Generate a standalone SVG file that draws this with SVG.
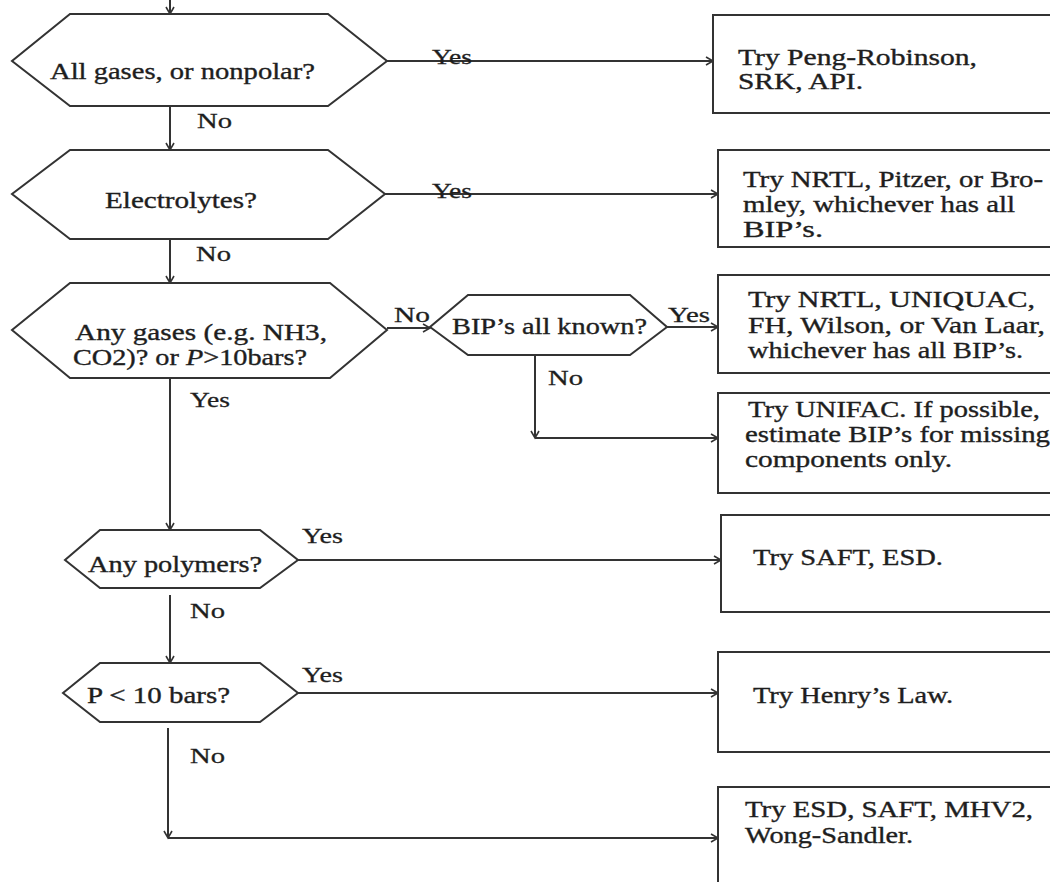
<svg xmlns="http://www.w3.org/2000/svg" width="1050" height="882" viewBox="0 0 1050 882">
<style>
.shape{fill:#fff;stroke:#333;stroke-width:2}
.t{font-family:"Liberation Serif","Times New Roman",Times,serif;font-size:23px;fill:#1e1e1e;stroke:#1e1e1e;stroke-width:0.35}
.lbl{font-family:"Liberation Serif","Times New Roman",Times,serif;font-size:22px;fill:#1e1e1e;stroke:#1e1e1e;stroke-width:0.3}
.c{fill:none;stroke:#333;stroke-width:2}
</style>
<defs>
<marker id="arr" markerWidth="10" markerHeight="10" refX="8" refY="5" orient="auto" markerUnits="userSpaceOnUse">
<path d="M1,1 L8,5 L1,9" fill="none" stroke="#333" stroke-width="1.6"/>
</marker>
</defs>
<rect width="1050" height="882" fill="#fff"/>
<g id="connectors">
<line class="c" x1="170" y1="0" x2="170" y2="14" marker-end="url(#arr)"/>
<line class="c" x1="387" y1="61" x2="713" y2="61" marker-end="url(#arr)"/>
<line class="c" x1="170" y1="106" x2="170" y2="150" marker-end="url(#arr)"/>
<line class="c" x1="385" y1="194" x2="718" y2="194" marker-end="url(#arr)"/>
<line class="c" x1="170" y1="239" x2="170" y2="283" marker-end="url(#arr)"/>
<line class="c" x1="387" y1="328" x2="430" y2="328" marker-end="url(#arr)"/>
<line class="c" x1="667" y1="327" x2="718" y2="327" marker-end="url(#arr)"/>
<line class="c" x1="535" y1="355" x2="535" y2="438" marker-end="url(#arr)"/>
<line class="c" x1="535" y1="438" x2="718" y2="438" marker-end="url(#arr)"/>
<line class="c" x1="170" y1="378" x2="170" y2="530" marker-end="url(#arr)"/>
<line class="c" x1="298" y1="560" x2="721" y2="560" marker-end="url(#arr)"/>
<line class="c" x1="170" y1="595" x2="170" y2="663" marker-end="url(#arr)"/>
<line class="c" x1="298" y1="693" x2="718" y2="693" marker-end="url(#arr)"/>
<line class="c" x1="168" y1="728" x2="168" y2="838" marker-end="url(#arr)"/>
<line class="c" x1="168" y1="838" x2="718" y2="838" marker-end="url(#arr)"/>
<text class="lbl" x="432" y="64" textLength="40" lengthAdjust="spacingAndGlyphs">Yes</text>
<text class="lbl" x="197" y="128" textLength="35" lengthAdjust="spacingAndGlyphs">No</text>
<text class="lbl" x="432" y="198" textLength="40" lengthAdjust="spacingAndGlyphs">Yes</text>
<text class="lbl" x="196" y="261" textLength="35" lengthAdjust="spacingAndGlyphs">No</text>
<text class="lbl" x="394" y="322" textLength="36" lengthAdjust="spacingAndGlyphs">No</text>
<text class="lbl" x="668" y="322" textLength="42" lengthAdjust="spacingAndGlyphs">Yes</text>
<text class="lbl" x="548" y="385" textLength="35" lengthAdjust="spacingAndGlyphs">No</text>
<text class="lbl" x="190" y="407" textLength="40" lengthAdjust="spacingAndGlyphs">Yes</text>
<text class="lbl" x="302" y="543" textLength="41" lengthAdjust="spacingAndGlyphs">Yes</text>
<text class="lbl" x="190" y="618" textLength="35" lengthAdjust="spacingAndGlyphs">No</text>
<text class="lbl" x="302" y="682" textLength="41" lengthAdjust="spacingAndGlyphs">Yes</text>
<text class="lbl" x="190" y="763" textLength="35" lengthAdjust="spacingAndGlyphs">No</text>
</g>
<g id="q-gases">
<polygon class="shape" points="70,14 328,14 387,61 328,106 70,106 12,61"/>
<text class="t" x="50" y="79" textLength="265" lengthAdjust="spacingAndGlyphs">All gases, or nonpolar?</text>
</g>
<g id="q-electrolytes">
<polygon class="shape" points="70,150 328,150 385,194 328,239 70,239 12,194"/>
<text class="t" x="105" y="208" textLength="152" lengthAdjust="spacingAndGlyphs">Electrolytes?</text>
</g>
<g id="q-anygases">
<polygon class="shape" points="70,283 330,283 387,330 330,378 70,378 12,330"/>
<text class="t" x="75" y="340" textLength="252" lengthAdjust="spacingAndGlyphs">Any gases (e.g. NH3,</text>
<text class="t" x="73" y="365" textLength="234" lengthAdjust="spacingAndGlyphs">CO2)? or <tspan font-style="italic">P</tspan>&gt;10bars?</text>
</g>
<g id="q-bip">
<polygon class="shape" points="468,295 630,295 667,327 630,355 468,355 430,327"/>
<text class="t" x="452" y="334" textLength="195" lengthAdjust="spacingAndGlyphs">BIP’s all known?</text>
</g>
<g id="q-polymers">
<polygon class="shape" points="100,530 260,530 298,560 260,588 100,588 65,560"/>
<text class="t" x="88" y="572" textLength="174" lengthAdjust="spacingAndGlyphs">Any polymers?</text>
</g>
<g id="q-pressure">
<polygon class="shape" points="100,663 260,663 298,693 260,722 100,722 63,693"/>
<text class="t" x="87" y="703" textLength="143" lengthAdjust="spacingAndGlyphs">P &lt; 10 bars?</text>
</g>
<g id="r-pr">
<rect class="shape" x="713" y="15" width="350" height="98"/>
<text class="t" x="738" y="65" textLength="239" lengthAdjust="spacingAndGlyphs">Try Peng-Robinson,</text>
<text class="t" x="738" y="89" textLength="125" lengthAdjust="spacingAndGlyphs">SRK, API.</text>
</g>
<g id="r-nrtl-pitzer">
<rect class="shape" x="718" y="150" width="350" height="97"/>
<text class="t" x="743" y="187" textLength="300" lengthAdjust="spacingAndGlyphs">Try NRTL, Pitzer, or Bro-</text>
<text class="t" x="743" y="212" textLength="272" lengthAdjust="spacingAndGlyphs">mley, whichever has all</text>
<text class="t" x="743" y="237" textLength="80" lengthAdjust="spacingAndGlyphs">BIP’s.</text>
</g>
<g id="r-nrtl-uniquac">
<rect class="shape" x="718" y="275" width="350" height="98"/>
<text class="t" x="748" y="307" textLength="287" lengthAdjust="spacingAndGlyphs">Try NRTL, UNIQUAC,</text>
<text class="t" x="748" y="333" textLength="297" lengthAdjust="spacingAndGlyphs">FH, Wilson, or Van Laar,</text>
<text class="t" x="748" y="358" textLength="275" lengthAdjust="spacingAndGlyphs">whichever has all BIP’s.</text>
</g>
<g id="r-unifac">
<rect class="shape" x="718" y="393" width="350" height="100"/>
<text class="t" x="748" y="417" textLength="292" lengthAdjust="spacingAndGlyphs">Try UNIFAC. If possible,</text>
<text class="t" x="745" y="442" textLength="305" lengthAdjust="spacingAndGlyphs">estimate BIP’s for missing</text>
<text class="t" x="745" y="467" textLength="207" lengthAdjust="spacingAndGlyphs">components only.</text>
</g>
<g id="r-saft">
<rect class="shape" x="721" y="515" width="350" height="97"/>
<text class="t" x="753" y="565" textLength="190" lengthAdjust="spacingAndGlyphs">Try SAFT, ESD.</text>
</g>
<g id="r-henry">
<rect class="shape" x="718" y="652" width="350" height="100"/>
<text class="t" x="753" y="703" textLength="200" lengthAdjust="spacingAndGlyphs">Try Henry’s Law.</text>
</g>
<g id="r-esd">
<rect class="shape" x="718" y="787" width="350" height="110"/>
<text class="t" x="745" y="817" textLength="288" lengthAdjust="spacingAndGlyphs">Try ESD, SAFT, MHV2,</text>
<text class="t" x="745" y="843" textLength="168" lengthAdjust="spacingAndGlyphs">Wong-Sandler.</text>
</g>
</svg>
